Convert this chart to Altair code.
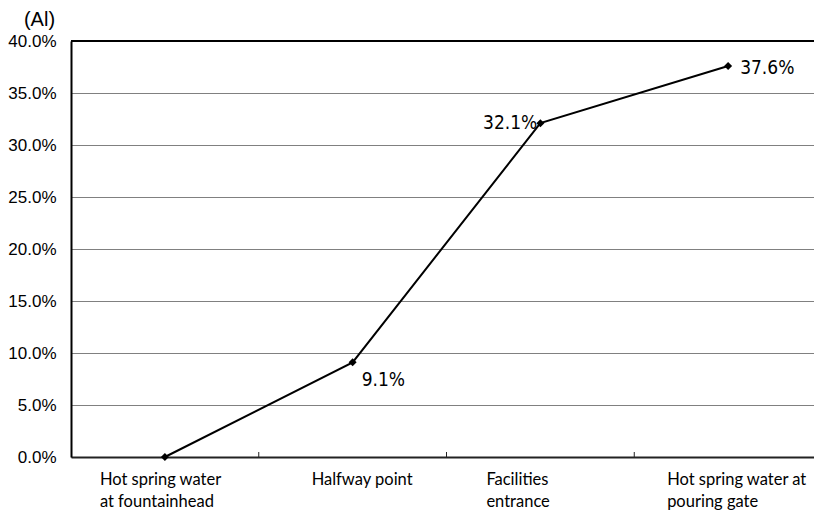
import altair as alt
import pandas as pd

# Sampling points along the hot-spring supply line (two-line axis labels)
categories = [
    "Hot spring water\nat fountainhead",
    "Halfway point",
    "Facilities\nentrance",
    "Hot spring water at\npouring gate",
]
# Aluminium ratio at each point (fraction)
al_ratio = [0.0, 0.091, 0.321, 0.376]

df = pd.DataFrame({"point": categories, "al": al_ratio, "order": range(len(categories))})

W, H = 743, 416

x_enc = alt.X(
    "point:N",
    sort=categories,
    scale=alt.Scale(type="band", domain=categories, range=[0, 751], paddingInner=0, paddingOuter=0),
    axis=alt.Axis(
        title=None,
        labelExpr="split(datum.label, '\\n')",
        labelAngle=0,
        labelAlign="left",
        labelBaseline="top",
        labelFont="Lato",
        labelFontSize=16.5,
        labelColor="black",
        labelPadding=14,
        labelLineHeight=22,
        labelOffset={
            "condition": [
                {"test": "indexof(datum.value, 'fountainhead') >= 0", "value": -65},
                {"test": "indexof(datum.value, 'Halfway') >= 0", "value": -41},
                {"test": "indexof(datum.value, 'Facilities') >= 0", "value": -54},
            ],
            "value": -61,
        },
        ticks=False,
        grid=False,
        domainColor="#222222",
        domainWidth=2,
    ),
)

y_enc = alt.Y(
    "al:Q",
    scale=alt.Scale(domain=[0, 0.4], nice=False),
    axis=alt.Axis(
        title="(Al)",
        titleAngle=0,
        titleX=-32,
        titleY=-22,
        titleAlign="center",
        titleBaseline="middle",
        titleFont="Liberation Sans",
        titleFontSize=20,
        titleFontWeight="normal",
        titleColor="black",
        values=[0, 0.05, 0.1, 0.15, 0.2, 0.25, 0.3, 0.35, 0.4],
        format=".1%",
        labelFont="Liberation Sans",
        labelFontSize=17,
        labelColor="black",
        labelPadding=15,
        labelBaseline="middle",
        ticks=False,
        grid=True,
        gridColor="#808080",
        gridWidth=1,
        domainColor="black",
        domainWidth=2,
    ),
)

base = alt.Chart(df)

line = base.mark_line(color="black", strokeWidth=2).encode(x=x_enc, y=y_enc, order="order:Q")
points = base.mark_point(shape="diamond", filled=True, color="black", size=64, opacity=1).encode(
    x=alt.X("point:N", sort=categories), y="al:Q"
)

# Upward-pointing ticks at the category boundaries
ticks = alt.Chart(pd.DataFrame({"point": categories[1:]})).mark_rule(color="#222222", strokeWidth=1).encode(
    x=alt.X("point:N", sort=categories, bandPosition=0),
    y=alt.value(H - 5),
    y2=alt.value(H),
)

# Top frame line of the plot area
top = alt.Chart(pd.DataFrame({"k": [0]})).mark_rule(color="black", strokeWidth=2).encode(
    x=alt.value(0), x2=alt.value(W + 20), y=alt.value(0)
)

label_font = dict(font="'DejaVu Sans Condensed', 'Liberation Sans', sans-serif", fontSize=19, color="black")

lbl_right = base.transform_filter("datum.order == 3").mark_text(
    align="left", baseline="middle", dx=12, dy=2, **label_font
).encode(x=alt.X("point:N", sort=categories), y="al:Q", text=alt.Text("al:Q", format=".1%"))

lbl_left = base.transform_filter("datum.order == 2").mark_text(
    align="right", baseline="middle", dx=-3, dy=0, **label_font
).encode(x=alt.X("point:N", sort=categories), y="al:Q", text=alt.Text("al:Q", format=".1%"))

lbl_below = base.transform_filter("datum.order == 1").mark_text(
    align="left", baseline="middle", dx=9, dy=18, **label_font
).encode(x=alt.X("point:N", sort=categories), y="al:Q", text=alt.Text("al:Q", format=".1%"))

chart = (
    alt.layer(line, ticks, top, points, lbl_right, lbl_left, lbl_below)
    .properties(
        width=W,
        height=H,
        autosize=alt.AutoSizeParams(type="none"),
        padding={"left": 71, "top": 41, "right": 0, "bottom": 57},
        background="white",
    )
    .configure_view(stroke=None)
)

chart.save("out.html", embed_options={"renderer": "svg", "actions": False})
